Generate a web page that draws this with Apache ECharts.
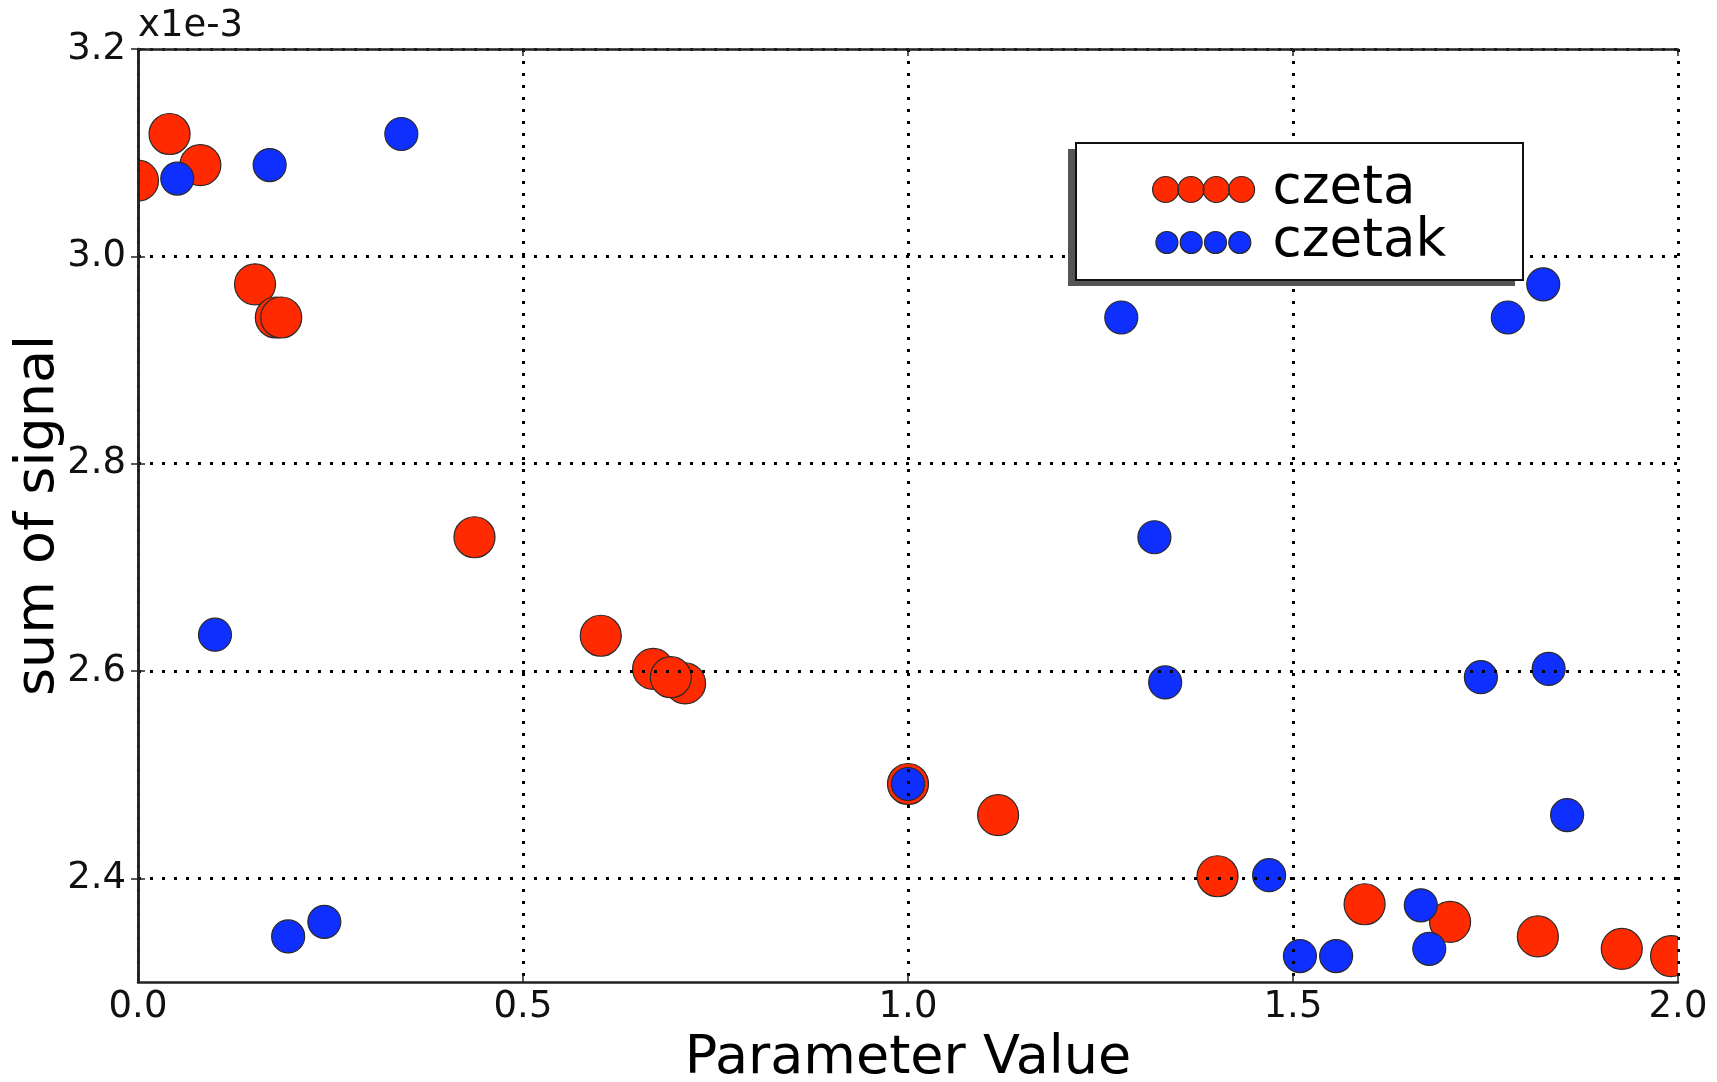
<!DOCTYPE html>
<html>
<head>
<meta charset="utf-8">
<script src="https://cdn.jsdelivr.net/npm/echarts@6/dist/echarts.min.js"></script>
<style>
  html, body { margin: 0; padding: 0; background: #fff; }
  #chart { width: 1717px; height: 1082px; }
</style>
</head>
<body>
<div id="chart"></div>
<script>
// ---- data (y values in units of 1e-3) ----
const czetaX = [0.0, 0.041, 0.081, 0.152, 0.179, 0.186, 0.437, 0.601, 0.669, 0.7105, 0.692, 1.0, 1.117, 1.402, 1.593, 1.704, 1.818, 1.927, 1.991];
const czetaY = [3.073, 3.118, 3.088, 2.973, 2.941, 2.941, 2.729, 2.634, 2.602, 2.588, 2.594, 2.491, 2.461, 2.402, 2.375, 2.358, 2.344, 2.332, 2.325];
const czetakX = [0.051, 0.171, 0.342, 0.100, 0.195, 0.242, 1.0, 1.277, 1.320, 1.334, 1.469, 1.509, 1.556, 1.666, 1.677, 1.744, 1.779, 1.825, 1.832, 1.856];
const czetakY = [3.075, 3.088, 3.118, 2.635, 2.344, 2.358, 2.491, 2.941, 2.729, 2.589, 2.403, 2.325, 2.325, 2.374, 2.332, 2.594, 2.941, 2.973, 2.602, 2.461];
const seriesNames = ['czeta', 'czetak'];
const xTicks = [0.0, 0.5, 1.0, 1.5, 2.0];
const yTicks = [2.4, 2.6, 2.8, 3.0, 3.2];
const yMin = 2.3;
const yOffsetLabel = 'x1e-3';
const xTitle = 'Parameter Value';
const yTitle = 'sum of signal';

const RED = '#ff2a00';
const BLUE = '#0f2fff';
const EDGE = '#2a2a2a';
const FONT = 'DejaVu Sans';

function circlePath(cx, cy, r) {
  return `M${cx - r},${cy} a${r},${r} 0 1,0 ${2 * r},0 a${r},${r} 0 1,0 ${-2 * r},0 Z `;
}
function legendIcon(r, start, step) {
  let p = 'path://M0,0 M104,26 ';
  for (let i = 0; i < 4; i++) p += circlePath(start + r + i * step, 13, r);
  return p;
}

function makeRender(color, r) {
  return function (params, api) {
    const p = api.coord([api.value(0), api.value(1)]);
    return {
      type: 'circle',
      shape: { cx: p[0], cy: p[1], r: r },
      style: { fill: color, stroke: EDGE, lineWidth: 1.2 }
    };
  };
}

const tickStyle = { show: true, inside: true, length: 7, lineStyle: { color: '#222', width: 1.5 } };
const lineStyle = { show: true, lineStyle: { color: '#222', width: 2.5 } };
const gridLine = { show: true, lineStyle: { color: '#000', width: 3, type: [3, 9] } };

const chart = echarts.init(document.getElementById('chart'), null, { renderer: 'canvas' });
chart.setOption({
  animation: false,
  backgroundColor: '#fff',
  grid: { left: 138, right: 39, top: 49, bottom: 100, containLabel: false, outerBoundsMode: 'none' },
  graphic: [
    { type: 'text', left: 138, top: 8, z: 10,
      style: { text: yOffsetLabel, font: `37px "${FONT}"`, fill: '#111' } },
    { type: 'rect', z: 8, shape: { x: 1068, y: 149, width: 447, height: 137 },
      style: { fill: '#555', stroke: null } },
    { type: 'rect', z: 9, shape: { x: 1076, y: 143, width: 447, height: 137 },
      style: { fill: '#fff', stroke: '#111', lineWidth: 2 } }
  ],
  legend: {
    orient: 'vertical',
    left: 1076, top: 143, z: 10,
    padding: [20, 72, 18, 76],
    itemWidth: 104, itemHeight: 26, itemGap: 0,
    textStyle: { fontFamily: FONT, fontSize: 53, color: '#000', lineHeight: 50, padding: [0, 0, 0, 11] },
    data: [
      { name: seriesNames[0], icon: legendIcon(13, 0, 25.33), itemStyle: { color: RED, borderColor: EDGE, borderWidth: 1.2 } },
      { name: seriesNames[1], icon: legendIcon(11, 3.3, 24.3), itemStyle: { color: BLUE, borderColor: EDGE, borderWidth: 1.2 } }
    ]
  },
  xAxis: [{
    type: 'value', position: 'bottom', z: 5,
    min: xTicks[0], max: xTicks[xTicks.length - 1], interval: 0.5,
    name: xTitle, nameLocation: 'middle', nameGap: 50, nameMoveOverlap: false,
    nameTextStyle: { fontFamily: FONT, fontSize: 54, color: '#000' },
    axisLine: lineStyle, axisTick: tickStyle, splitLine: gridLine,
    axisLabel: { margin: 7, fontFamily: FONT, fontSize: 37, color: '#111', formatter: v => v.toFixed(1) }
  }, {
    type: 'value', position: 'top', z: 5,
    min: xTicks[0], max: xTicks[xTicks.length - 1], interval: 0.5,
    axisLine: lineStyle, axisTick: tickStyle, splitLine: { show: false }, axisLabel: { show: false }
  }],
  yAxis: [{
    type: 'value', position: 'left', z: 5,
    min: yMin, max: yTicks[yTicks.length - 1], interval: 0.1,
    name: yTitle, nameLocation: 'middle', nameGap: 72, nameMoveOverlap: false,
    nameTextStyle: { fontFamily: FONT, fontSize: 54, color: '#000' },
    axisLine: lineStyle,
    axisTick: Object.assign({}, tickStyle, { customValues: yTicks }),
    splitLine: gridLine,
    axisLabel: {
      customValues: yTicks,
      margin: 12, fontFamily: FONT, fontSize: 37, color: '#111',
      formatter: v => (yTicks.some(t => Math.abs(t - v) < 1e-6) ? v.toFixed(1) : '')
    }
  }, {
    type: 'value', position: 'right', z: 5,
    min: yMin, max: yTicks[yTicks.length - 1], interval: 0.1,
    axisLine: lineStyle,
    axisTick: Object.assign({}, tickStyle, { customValues: yTicks }),
    splitLine: { show: false }, axisLabel: { show: false }
  }],
  series: [{
    type: 'custom', name: seriesNames[0], coordinateSystem: 'cartesian2d',
    xAxisIndex: 0, yAxisIndex: 0, clip: true, z: 2,
    itemStyle: { color: RED },
    encode: { x: 0, y: 1 },
    data: czetaX.map((x, i) => [x, czetaY[i]]),
    renderItem: makeRender(RED, 20.5)
  }, {
    type: 'custom', name: seriesNames[1], coordinateSystem: 'cartesian2d',
    xAxisIndex: 0, yAxisIndex: 0, clip: true, z: 2,
    itemStyle: { color: BLUE },
    encode: { x: 0, y: 1 },
    data: czetakX.map((x, i) => [x, czetakY[i]]),
    renderItem: makeRender(BLUE, 16.5)
  }]
});
</script>
</body>
</html>
